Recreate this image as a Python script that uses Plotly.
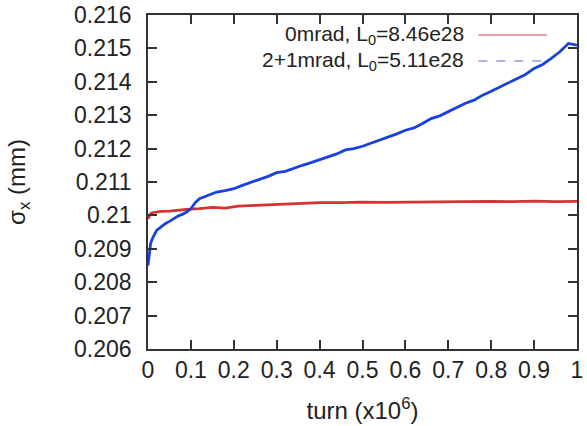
import plotly.graph_objects as go

# Data
turn_blue = [0, 0.003, 0.006, 0.01, 0.015, 0.02, 0.03, 0.04, 0.05, 0.06, 0.07, 0.08, 0.09, 0.10,
             0.11, 0.12, 0.13, 0.14, 0.16, 0.18, 0.20, 0.22, 0.24, 0.26, 0.28, 0.30, 0.32, 0.34,
             0.36, 0.38, 0.40, 0.42, 0.44, 0.46, 0.48, 0.50, 0.52, 0.54, 0.56, 0.58, 0.60, 0.62,
             0.64, 0.66, 0.68, 0.70, 0.72, 0.74, 0.76, 0.78, 0.80, 0.82, 0.84, 0.86, 0.88, 0.90,
             0.92, 0.94, 0.96, 0.98, 1.0]
sigma_blue = [0.20850, 0.20895, 0.20915, 0.20930, 0.20945, 0.20955, 0.20965, 0.20975, 0.20982,
              0.20990, 0.20998, 0.21003, 0.21010, 0.21020, 0.21038, 0.21050, 0.21055, 0.21062,
              0.21070, 0.21074, 0.21080, 0.21090, 0.21098, 0.21108, 0.21117, 0.21128, 0.21132,
              0.21142, 0.21150, 0.21158, 0.21167, 0.21176, 0.21184, 0.21196, 0.21200, 0.21207,
              0.21216, 0.21226, 0.21236, 0.21244, 0.21255, 0.21262, 0.21275, 0.21290, 0.21298,
              0.21310, 0.21322, 0.21336, 0.21345, 0.21360, 0.21372, 0.21385, 0.21398, 0.21410,
              0.21422, 0.21440, 0.21452, 0.21470, 0.21490, 0.21515, 0.21510]

turn_red = [0, 0.003, 0.006, 0.01, 0.02, 0.03, 0.05, 0.07, 0.09, 0.12, 0.15, 0.18, 0.21, 0.25,
            0.30, 0.35, 0.40, 0.45, 0.50, 0.55, 0.60, 0.65, 0.70, 0.75, 0.80, 0.85, 0.90, 0.95, 1.0]
sigma_red = [0.20990, 0.21000, 0.21005, 0.21008, 0.21010, 0.21012, 0.21013, 0.21016, 0.21018,
             0.21020, 0.21024, 0.21022, 0.21028, 0.21030, 0.21033, 0.21034, 0.21038, 0.21038,
             0.21040, 0.21039, 0.21040, 0.21041, 0.21040, 0.21041, 0.21042, 0.21041, 0.21043,
             0.21041, 0.21042]

x_ticks = [0, 0.1, 0.2, 0.3, 0.4, 0.5, 0.6, 0.7, 0.8, 0.9, 1]
x_ticktext = ["0", "0.1", "0.2", "0.3", "0.4", "0.5", "0.6", "0.7", "0.8", "0.9", "1"]
y_ticks = [0.206, 0.207, 0.208, 0.209, 0.210, 0.211, 0.212, 0.213, 0.214, 0.215, 0.216]
y_ticktext = ["0.206", "0.207", "0.208", "0.209", "0.21", "0.211", "0.212", "0.213", "0.214", "0.215", "0.216"]

labels = ["0mrad, L<sub>0</sub>=8.46e28", "2+1mrad, L<sub>0</sub>=5.11e28"]

RED = "rgb(214,50,50)"
BLUE = "rgb(25,65,225)"
FONT = "Liberation Sans, Arial, sans-serif"
TXT = "#222"

fig = go.Figure()
fig.add_trace(go.Scatter(x=turn_red, y=sigma_red, mode="lines",
                         line=dict(color=RED, width=2.8), showlegend=False))
fig.add_trace(go.Scatter(x=turn_blue, y=sigma_blue, mode="lines",
                         line=dict(color=BLUE, width=2.8), showlegend=False))

# gnuplot-style key: text right-aligned, sample to its right
key_y = [0.94, 0.862]
key_styles = [dict(color="rgb(232,160,160)", width=2, dash="solid"),
              dict(color="rgb(150,150,230)", width=1.5, dash="dash")]
for lab, ky, st in zip(labels, key_y, key_styles):
    fig.add_annotation(x=0.742, y=ky, xref="paper", yref="paper", text=lab,
                       showarrow=False, xanchor="right", yanchor="middle",
                       font=dict(size=21, color=TXT, family=FONT))
    fig.add_shape(type="line", xref="paper", yref="paper", x0=0.77, x1=0.93,
                  y0=ky, y1=ky, line=st)

axis_common = dict(showline=True, linecolor="#333", linewidth=1.5, mirror="allticks",
                   ticks="inside", ticklen=9, tickwidth=1.5, tickcolor="#333",
                   showgrid=False, zeroline=False, automargin=False,
                   tickfont=dict(size=23, color=TXT, family=FONT))

fig.update_layout(
    width=587, height=426,
    margin=dict(l=148, r=10, t=15, b=77),
    paper_bgcolor="white", plot_bgcolor="white",
    xaxis=dict(range=[0, 1], tickvals=x_ticks, ticktext=x_ticktext, ticklabelstandoff=0,
               title=dict(text="turn (x10<sup>6</sup>)", standoff=20,
                          font=dict(size=24, color=TXT, family=FONT)),
               **axis_common),
    yaxis=dict(range=[0.206, 0.216], tickvals=y_ticks, ticktext=y_ticktext, ticklabelstandoff=10,
               title=dict(text="σ<sub>x</sub> (mm)", standoff=42,
                          font=dict(size=24, color=TXT, family=FONT)),
               **axis_common),
)

fig.write_html("out.html")
